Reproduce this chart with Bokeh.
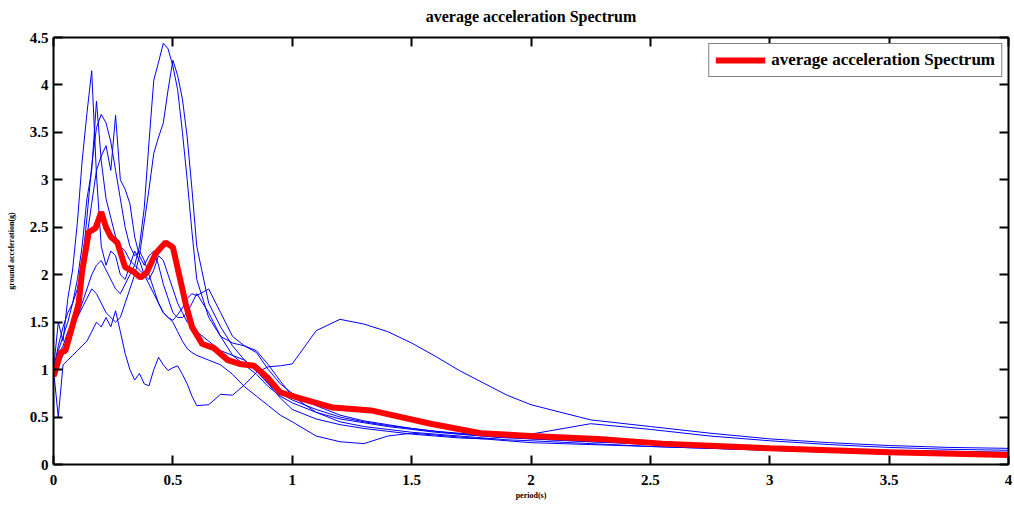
from bokeh.plotting import figure
from bokeh.models import Range1d, LinearAxis, FixedTicker
from bokeh.embed import file_html
from bokeh.resources import INLINE

# ---------------- data ----------------
period = [0.00, 0.02, 0.04, 0.06, 0.08, 0.10, 0.12, 0.14, 0.16, 0.18,
          0.20, 0.22, 0.24, 0.26, 0.28, 0.30, 0.32, 0.34, 0.36, 0.38,
          0.40, 0.42, 0.44, 0.46, 0.48, 0.50, 0.52, 0.54, 0.56, 0.58,
          0.60, 0.65, 0.70, 0.75, 0.80, 0.85, 0.90, 0.95, 1.00, 1.10,
          1.20, 1.30, 1.40, 1.50, 1.60, 1.70, 1.80, 1.90, 2.00, 2.25,
          2.50, 2.75, 3.00, 3.25, 3.50, 3.75, 4.00]

rec1 = [1.00, 1.10, 1.20, 1.35, 1.45, 1.55, 1.70, 1.85, 2.00, 2.10,
        2.15, 2.05, 1.95, 1.85, 1.80, 1.90, 2.00, 2.10, 2.30, 2.70,
        3.40, 4.05, 4.24, 4.44, 4.38, 4.20, 3.95, 3.50, 3.00, 2.45,
        1.95, 1.55, 1.35, 1.15, 1.05, 0.95, 0.82, 0.72, 0.65, 0.55,
        0.48, 0.44, 0.40, 0.37, 0.34, 0.32, 0.30, 0.28, 0.27, 0.24,
        0.21, 0.19, 0.17, 0.15, 0.14, 0.13, 0.12]

rec2 = [1.00, 1.15, 1.25, 1.40, 1.50, 1.55, 1.65, 1.75, 1.85, 1.80,
        1.70, 1.60, 1.55, 1.50, 1.55, 1.70, 1.85, 2.00, 2.20, 2.55,
        2.90, 3.28, 3.45, 3.60, 3.95, 4.26, 4.10, 3.85, 3.45, 2.90,
        2.30, 1.70, 1.45, 1.25, 1.10, 0.98, 0.85, 0.75, 0.68, 0.58,
        0.50, 0.45, 0.41, 0.38, 0.35, 0.32, 0.30, 0.29, 0.27, 0.24,
        0.22, 0.20, 0.18, 0.16, 0.14, 0.13, 0.12]

rec3 = [1.00, 1.50, 1.30, 1.75, 2.05, 2.55, 3.20, 3.70, 4.15, 3.05,
        2.30, 2.10, 2.25, 2.20, 2.00, 1.95, 2.10, 2.25, 2.15, 2.00,
        1.90, 1.80, 1.70, 1.60, 1.55, 1.52, 1.58, 1.65, 1.75, 1.80,
        1.78, 1.85, 1.60, 1.35, 1.25, 1.18, 1.00, 0.85, 0.75, 0.62,
        0.52, 0.46, 0.42, 0.38, 0.35, 0.33, 0.31, 0.30, 0.28, 0.25,
        0.22, 0.20, 0.18, 0.16, 0.15, 0.14, 0.13]

rec4 = [1.00, 1.20, 1.35, 1.50, 1.70, 1.95, 2.30, 2.80, 3.10, 3.83,
        3.20, 2.80, 2.60, 2.40, 2.30, 2.25, 2.15, 2.10, 2.05, 2.00,
        1.95, 2.05, 2.20, 2.15, 2.00, 1.85, 1.70, 1.60, 1.50, 1.45,
        1.40, 1.30, 1.20, 1.15, 1.10, 1.00, 0.85, 0.70, 0.58, 0.48,
        0.42, 0.38, 0.35, 0.32, 0.30, 0.28, 0.27, 0.29, 0.32, 0.43,
        0.37, 0.30, 0.25, 0.21, 0.18, 0.16, 0.15]

rec5 = [1.00, 1.05, 1.15, 1.30, 1.50, 1.75, 2.10, 2.60, 3.15, 3.55,
        3.69, 3.60, 3.40, 3.10, 2.80, 2.50, 2.30, 2.20, 2.25, 2.15,
        2.00, 1.85, 1.70, 1.60, 1.55, 1.50, 1.40, 1.30, 1.22, 1.18,
        1.15, 1.10, 1.05, 0.95, 0.82, 0.72, 0.62, 0.52, 0.45, 0.30,
        0.24, 0.22, 0.30, 0.33, 0.31, 0.29, 0.27, 0.25, 0.23, 0.21,
        0.19, 0.17, 0.15, 0.13, 0.12, 0.11, 0.10]

rec6 = [1.00, 1.25, 1.45, 1.60, 1.70, 1.85, 2.10, 2.40, 2.75, 3.10,
        3.25, 3.36, 3.10, 3.68, 3.00, 2.90, 2.75, 2.40, 2.20, 2.10,
        2.20, 2.25, 2.10, 1.90, 1.75, 1.60, 1.55, 1.55, 1.60, 1.70,
        1.80, 1.60, 1.35, 1.28, 1.25, 1.20, 1.05, 0.88, 0.72, 0.55,
        0.45, 0.40, 0.37, 0.34, 0.32, 0.30, 0.28, 0.26, 0.25, 0.22,
        0.19, 0.17, 0.15, 0.13, 0.11, 0.10, 0.09]

rec7 = [1.00, 0.50, 1.05, 1.10, 1.15, 1.20, 1.25, 1.30, 1.40, 1.50,
        1.45, 1.55, 1.45, 1.62, 1.40, 1.17, 1.00, 0.89, 0.96, 0.85,
        0.83, 1.00, 1.13, 1.05, 0.99, 1.02, 1.04, 0.95, 0.85, 0.72,
        0.62, 0.63, 0.74, 0.73, 0.84, 0.97, 1.03, 1.04, 1.06, 1.41,
        1.53, 1.48, 1.40, 1.28, 1.14, 0.99, 0.86, 0.73, 0.63, 0.47,
        0.40, 0.33, 0.27, 0.23, 0.20, 0.18, 0.17]

avg_period = [0.0, 0.008, 0.03, 0.05, 0.078, 0.105, 0.12, 0.148, 0.176, 0.20,
              0.22, 0.24, 0.267, 0.30, 0.336, 0.364, 0.39, 0.427, 0.469, 0.50,
              0.553, 0.58, 0.623, 0.67, 0.73, 0.78, 0.84, 0.895, 0.95, 1.03,
              1.17, 1.33, 1.58, 1.79, 2.0, 2.28, 2.55, 3.0, 3.5, 4.0]
avg_accel = [0.93, 0.99, 1.18, 1.20, 1.45, 1.69, 2.04, 2.45, 2.49, 2.66,
             2.50, 2.40, 2.34, 2.08, 2.03, 1.97, 2.02, 2.22, 2.34, 2.29,
             1.70, 1.45, 1.27, 1.23, 1.10, 1.06, 1.04, 0.92, 0.76, 0.70,
             0.60, 0.57, 0.43, 0.33, 0.30, 0.27, 0.22, 0.17, 0.13, 0.10]

x_ticks = [0, 0.5, 1, 1.5, 2, 2.5, 3, 3.5, 4]
x_tick_labels = ["0", "0.5", "1", "1.5", "2", "2.5", "3", "3.5", "4"]
y_ticks = [0, 0.5, 1, 1.5, 2, 2.5, 3, 3.5, 4, 4.5]
y_tick_labels = ["0", "0.5", "1", "1.5", "2", "2.5", "3", "3.5", "4", "4.5"]

chart_title = "average acceleration Spectrum"
records = [rec1, rec2, rec3, rec4, rec5, rec6, rec7]

# ---------------- figure ----------------
FONT = "Liberation Serif"

p = figure(width=1014, height=506, output_backend="svg", toolbar_location=None,
           title=None,
           x_range=Range1d(0, 4), y_range=Range1d(0, 4.5),
           min_border_left=53, min_border_right=6, min_border_top=37,
           min_border_bottom=42, background_fill_color="white",
           border_fill_color="white")
p.outline_line_color = None
p.xgrid.visible = False
p.ygrid.visible = False

for rec in records:
    p.line(period, rec, line_color="#0000ff", line_width=1)

p.line(avg_period, avg_accel, line_color="#ff0000", line_width=6,
       legend_label="average acceleration Spectrum")


def style_axis(ax, ticks, labels, show_labels=True):
    ax.ticker = FixedTicker(ticks=ticks)
    ax.axis_line_color = "black"
    ax.axis_line_width = 2
    ax.major_tick_line_color = "black"
    ax.major_tick_line_width = 2
    ax.major_tick_in = 9
    ax.major_tick_out = 0
    ax.minor_tick_line_color = None
    ax.major_label_text_font = FONT
    ax.major_label_text_font_style = "bold"
    ax.major_label_text_color = "black"
    ax.axis_label_text_font = FONT
    ax.axis_label_text_font_style = "bold"
    ax.axis_label_text_color = "black"
    if show_labels:
        ax.major_label_overrides = {t: l for t, l in zip(ticks, labels)}
        ax.major_label_text_font_size = "15px"
    else:
        ax.major_label_overrides = {t: "" for t in ticks}
        ax.major_label_text_font_size = "1px"
        ax.major_label_standoff = 0


xa = p.xaxis[0]
style_axis(xa, x_ticks, x_tick_labels)
xa.major_label_standoff = 10
xa.axis_label = "period(s)"
xa.axis_label_text_font_size = "8px"
xa.axis_label_standoff = 3

ya = p.yaxis[0]
style_axis(ya, y_ticks, y_tick_labels)
ya.major_label_standoff = 5
ya.axis_label = "ground acceleration(g)"
ya.axis_label_text_font_size = "8px"
ya.axis_label_standoff = 11

# top axis carries the chart title as its label
top_ax = LinearAxis()
style_axis(top_ax, x_ticks, x_tick_labels, show_labels=False)
top_ax.axis_label = chart_title
top_ax.axis_label_text_font_size = "16px"
top_ax.axis_label_standoff = 13
p.add_layout(top_ax, "above")

right_ax = LinearAxis()
style_axis(right_ax, y_ticks, y_tick_labels, show_labels=False)
p.add_layout(right_ax, "right")

lg = p.legend[0]
lg.location = "top_right"
lg.margin = 6
lg.padding = 6
lg.spacing = 0
lg.border_line_color = "black"
lg.border_line_width = 1.5
lg.background_fill_alpha = 1
lg.glyph_width = 50
lg.glyph_height = 16
lg.label_height = 16
lg.label_standoff = 6
lg.label_text_font = FONT
lg.label_text_font_style = "bold"
lg.label_text_font_size = "17px"
lg.label_text_color = "black"

open("out.html", "w").write(file_html(p, INLINE))
